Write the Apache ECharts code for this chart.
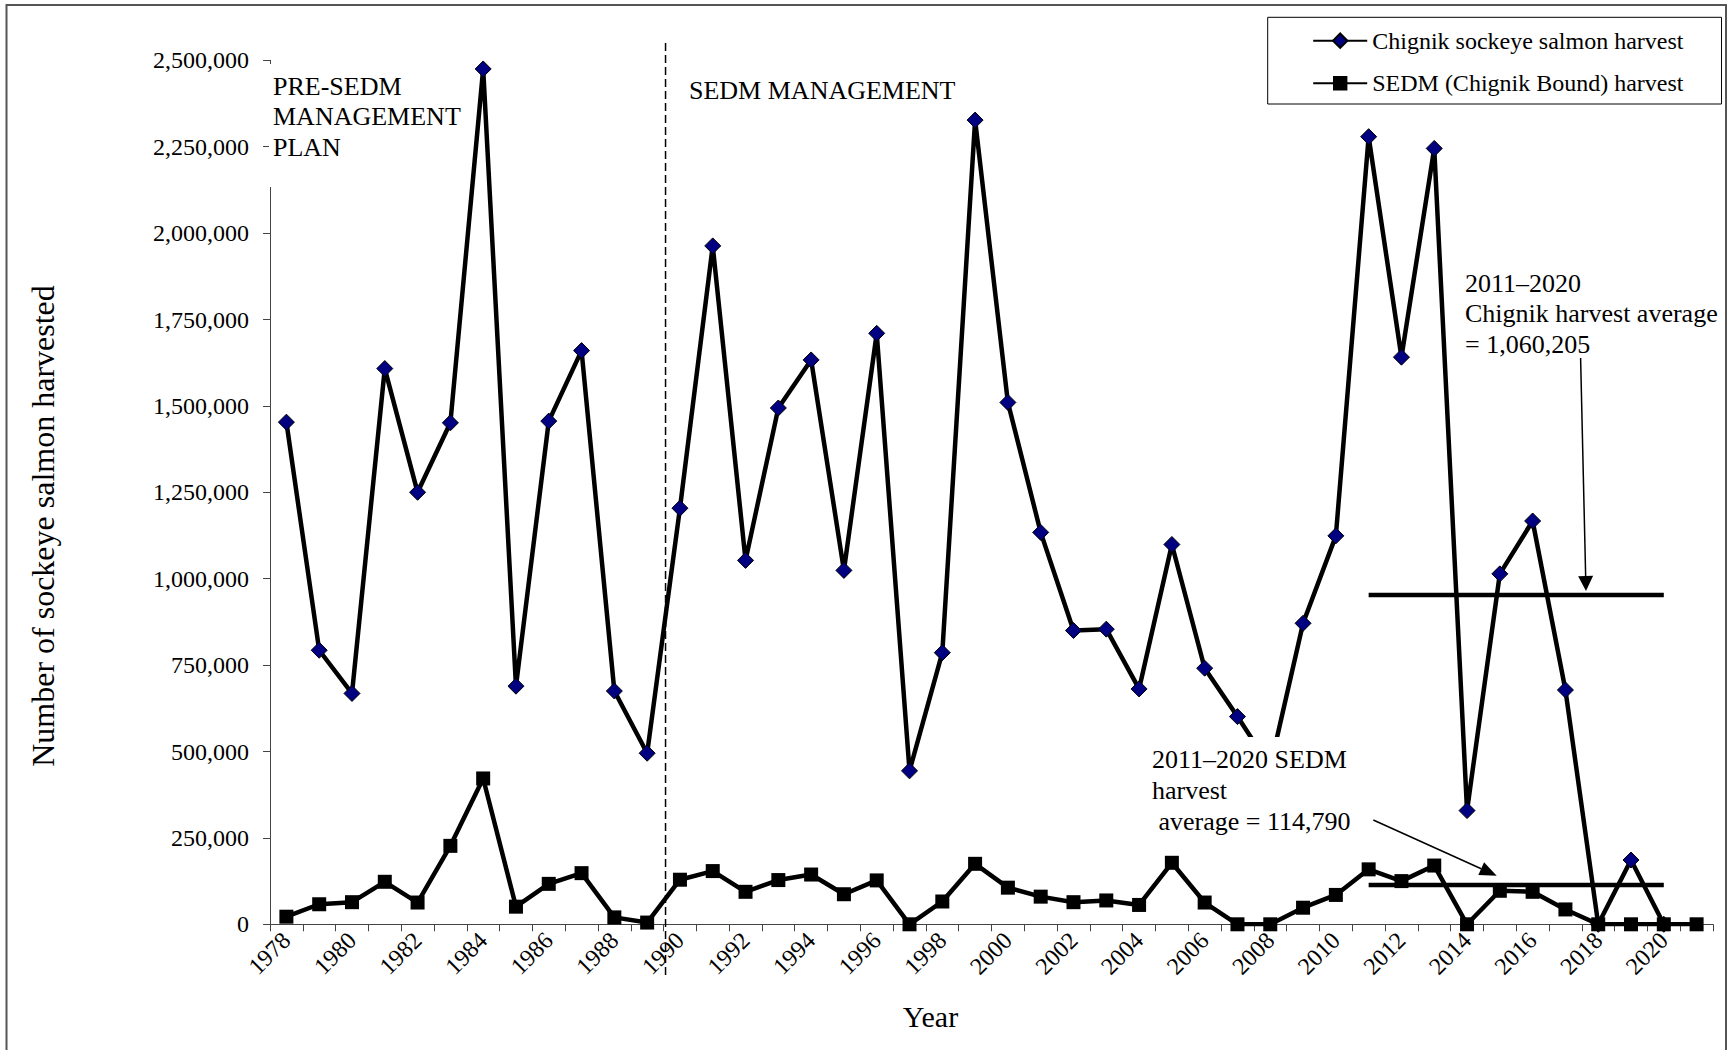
<!DOCTYPE html>
<html>
<head>
<meta charset="utf-8">
<script src="https://cdn.jsdelivr.net/npm/echarts@6/dist/echarts.min.js"></script>
<style>
  html, body { margin: 0; padding: 0; background: #fff; }
  #chart { width: 1732px; height: 1050px; }
</style>
</head>
<body>
<div id="chart"></div>
<script>
// ---------------- data ----------------
const years = ['1978','1979','1980','1981','1982','1983','1984','1985','1986','1987',
  '1988','1989','1990','1991','1992','1993','1994','1995','1996','1997',
  '1998','1999','2000','2001','2002','2003','2004','2005','2006','2007',
  '2008','2009','2010','2011','2012','2013','2014','2015','2016','2017',
  '2018','2019','2020','2021'];

const chignikHarvest = [1453000, 793000, 668000, 1608000, 1250000, 1451000, 2475000, 689000, 1456000, 1660000,
  675000, 495000, 1204000, 1963000, 1053000, 1494000, 1633000, 1024000, 1710000, 444000,
  786000, 2327000, 1510000, 1134000, 850000, 854000, 681000, 1099000, 741000, 601000,
  455000, 871000, 1124000, 2279000, 1641000, 2245000, 329000, 1014000, 1167000, 678000,
  0, 186000, 0, null];

const sedmHarvest = [22000, 58000, 64000, 123000, 63000, 227000, 422000, 51000, 117000, 148000,
  20000, 5000, 129000, 154000, 94000, 128000, 144000, 87000, 127000, 0,
  66000, 175000, 106000, 80000, 64000, 69000, 56000, 178000, 63000, 0,
  0, 48000, 85000, 159000, 125000, 170000, 0, 97000, 94000, 43000,
  0, 0, 0, 0];

// 2011–2020 average lines (drawn where they appear in the figure)
const avgYears = ['2011','2012','2013','2014','2015','2016','2017','2018','2019','2020'];
const chignikAvgDrawn = 953000;
const sedmAvgDrawn = 114000;

const yTicks = { min: 0, max: 2500000, interval: 250000 };

const seriesNames = ['Chignik sockeye salmon harvest', 'SEDM (Chignik Bound) harvest'];
const annotationTexts = {
  pre: 'PRE-SEDM\nMANAGEMENT\nPLAN',
  sedmMgmt: 'SEDM MANAGEMENT',
  chignikAvg: '2011\u20132020\nChignik harvest average\n= 1,060,205',
  sedmAvg: '2011\u20132020 SEDM\nharvest\n average = 114,790'
};
const xName = 'Year';
const yName = 'Number of sockeye salmon harvested';

// ---------------- layout ----------------
const W = 1732, H = 1050;
const GL = 270, GR = 19, GT = 60.3, GB = 125.7;
const CW = (W - GL - GR) / years.length;
const FONT = "'Liberation Serif', 'Times New Roman', serif";

function avgSeries(val) {
  return years.map(y => avgYears.indexOf(y) >= 0 ? val : null);
}

function arrow(x1, y1, x2, y2, headLen, headHalf) {
  const dx = x2 - x1, dy = y2 - y1, L = Math.hypot(dx, dy);
  const ux = dx / L, uy = dy / L;
  const bx = x2 - ux * headLen, by = y2 - uy * headLen;
  const px = -uy, py = ux;
  return [
    { type: 'line', z: 100, shape: { x1: x1, y1: y1, x2: bx, y2: by },
      style: { stroke: '#000', lineWidth: 1.5 } },
    { type: 'polygon', z: 100, shape: { points: [[x2, y2],
        [bx + px * headHalf, by + py * headHalf], [bx - px * headHalf, by - py * headHalf]] },
      style: { fill: '#000' } }
  ];
}

const chart = echarts.init(document.getElementById('chart'), null, { renderer: 'svg', width: W, height: H });

const divX = GL + CW * 12 + 2;

const graphics = [
  // outer frame
  { type: 'rect', z: 0, shape: { x: 6.5, y: 5, width: 1719.5, height: 1060 },
    style: { fill: null, stroke: '#555', lineWidth: 2 } },
  // divider between periods
  { type: 'line', z: 90, shape: { x1: divX, y1: 43, x2: divX, y2: 975 },
    style: { stroke: '#000', lineWidth: 1.5, lineDash: [8, 4] } },
  // PRE-SEDM label box
  { type: 'rect', z: 100, shape: { x: 269, y: 64, width: 200, height: 123 },
    style: { fill: '#fff' } },
  { type: 'text', z: 101, x: 273, y: 70.8,
    style: { text: annotationTexts.pre, font: '26px ' + FONT, fill: '#000',
      textVerticalAlign: 'top', lineHeight: 30.5 } },
  { type: 'text', z: 101, x: 689, y: 90,
    style: { text: annotationTexts.sedmMgmt, font: '26px ' + FONT, fill: '#000',
      textVerticalAlign: 'middle' } },
  { type: 'text', z: 101, x: 1465, y: 268.3,
    style: { text: annotationTexts.chignikAvg, font: '26px ' + FONT, fill: '#000',
      textVerticalAlign: 'top', lineHeight: 30.4 } },
  { type: 'rect', z: 100, shape: { x: 1145, y: 737, width: 215, height: 105 },
    style: { fill: '#fff' } },
  { type: 'text', z: 101, x: 1152, y: 743.7,
    style: { text: annotationTexts.sedmAvg, font: '26px ' + FONT, fill: '#000',
      textVerticalAlign: 'top', lineHeight: 31.25 } },
  // axis titles
  { type: 'text', z: 101, x: 930.5, y: 1016.7,
    style: { text: xName, font: '30px ' + FONT, fill: '#000',
      textAlign: 'center', textVerticalAlign: 'middle' } },
  { type: 'text', z: 101, x: 43, y: 526, rotation: Math.PI / 2,
    style: { text: yName, font: '32px ' + FONT, fill: '#000',
      textAlign: 'center', textVerticalAlign: 'middle' } }
].concat(arrow(1580.6, 358, 1586, 591, 15, 7.5))
 .concat(arrow(1373.3, 820, 1496.7, 875.7, 17, 7));

const option = {
  animation: false,
  backgroundColor: '#fff',
  textStyle: { fontFamily: FONT },
  grid: { left: GL, right: GR, top: GT, bottom: GB, containLabel: false },
  legend: {
    data: seriesNames,
    orient: 'vertical',
    left: 1267.7, top: 17.3,
    padding: [11.4, 38, 8.7, 44.5],
    itemGap: 18.6,
    itemWidth: 54, itemHeight: 18,
    borderColor: '#000', borderWidth: 1,
    backgroundColor: '#fff',
    textStyle: { fontSize: 24, fontFamily: FONT, color: '#000', lineHeight: 24 },
    selectedMode: false
  },
  xAxis: {
    type: 'category',
    data: years,
    boundaryGap: true,
    axisLine: { lineStyle: { color: '#444', width: 1 } },
    axisTick: { show: true, interval: 0, length: 7, inside: false, lineStyle: { color: '#444' } },
    axisLabel: { interval: 1, rotate: 45, margin: 12, fontSize: 24, fontFamily: FONT, color: '#000' },
    splitLine: { show: false }
  },
  yAxis: {
    type: 'value',
    min: yTicks.min, max: yTicks.max, interval: yTicks.interval,
    axisLine: { show: true, lineStyle: { color: '#444', width: 1 } },
    axisTick: { show: true, length: 7, inside: false, lineStyle: { color: '#444' } },
    axisLabel: { margin: 21, fontSize: 24, fontFamily: FONT, color: '#000',
      formatter: v => v.toLocaleString('en-US') },
    splitLine: { show: false }
  },
  series: [
    {
      name: seriesNames[0], type: 'line', data: chignikHarvest,
      symbol: 'diamond', symbolSize: 16, showAllSymbol: true,
      lineStyle: { color: '#000', width: 4.5 },
      itemStyle: { color: '#000080', borderColor: '#000', borderWidth: 1 },
      z: 2
    },
    {
      name: seriesNames[1], type: 'line', data: sedmHarvest,
      symbol: 'rect', symbolSize: 14, showAllSymbol: true,
      lineStyle: { color: '#000', width: 4.5 },
      itemStyle: { color: '#000', borderColor: '#000', borderWidth: 0 },
      z: 3
    },
    {
      name: 'Chignik 2011\u20132020 average', type: 'line', data: avgSeries(chignikAvgDrawn),
      showSymbol: false, symbol: 'none', lineStyle: { color: '#000', width: 4.5 }, z: 4
    },
    {
      name: 'SEDM 2011\u20132020 average', type: 'line', data: avgSeries(sedmAvgDrawn),
      showSymbol: false, symbol: 'none', lineStyle: { color: '#000', width: 4.5 }, z: 4
    }
  ],
  graphic: { elements: graphics }
};

chart.setOption(option);
</script>
</body>
</html>
